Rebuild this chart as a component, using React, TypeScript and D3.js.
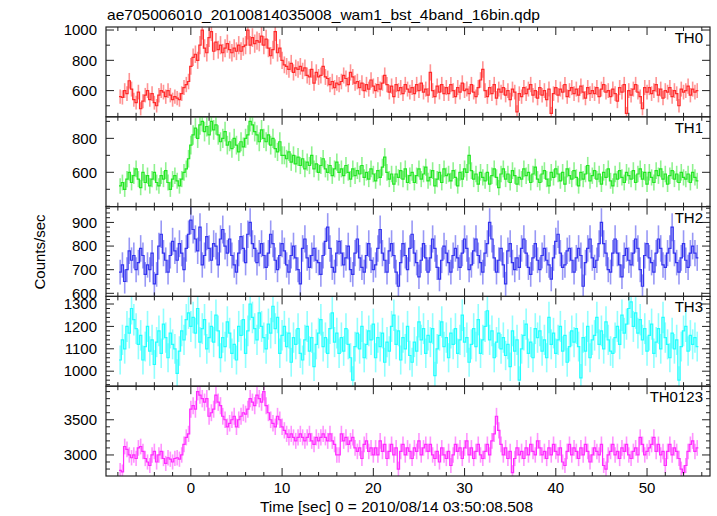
import React from 'react';
import * as d3 from 'd3';

const TITLE = 'ae705006010_20100814035008_wam1_bst_4band_16bin.qdp';
const XLABEL = 'Time [sec] 0 = 2010/08/14 03:50:08.508';
const YLABEL = 'Counts/sec';
const T_START = -7.75;
const BIN = 0.25;

const TH0 = [
  560,555,600,580,665,610,540,520, 590,480,530,570,600,540,580,520,
  500,570,600,590,560,600,570,540, 560,550,540,580,620,640,660,760,
  820,840,800,900,1000,880,850,950, 990,860,920,870,900,850,880,910,
  870,850,880,860,900,860,890,900, 1000,900,950,910,930,920,960,900,
  940,880,830,870,990,850,880,800, 770,760,740,780,720,750,740,760,
  730,750,700,690,740,650,720,690, 700,760,690,680,640,660,620,650,
  640,660,700,680,640,720,690,650, 660,620,650,600,640,610,670,630,
  600,640,610,650,700,640,590,630, 560,640,600,620,580,640,610,590,
  620,580,640,600,650,590,610,570, 720,600,560,630,590,640,580,620,
  580,640,600,560,620,590,650,600, 610,580,640,590,560,620,670,740,
  600,560,620,580,640,550,610,590, 620,570,600,540,610,590,460,580,
  560,620,580,610,640,570,600,550, 620,570,600,540,610,450,580,620,
  570,610,590,640,560,600,620,580, 610,570,630,590,550,620,580,600,
  580,620,560,610,640,590,600,560, 610,580,530,620,590,640,450,600,
  570,610,640,590,560,480,620,590, 620,580,600,640,570,610,550,600,
  590,620,560,600,580,500,610,590, 600,630,570,610,590,600,
];

const TH1 = [
  520,540,500,560,600,540,580,620, 560,510,600,540,580,520,560,600,
  540,520,580,560,610,540,500,560, 580,550,520,560,600,620,680,760,
  820,860,800,880,900,840,870,820, 900,850,880,820,780,800,840,760,
  780,740,800,760,720,780,750,800, 820,900,880,840,820,780,850,800,
  780,820,760,800,740,720,780,700, 700,680,720,660,700,650,690,640,
  680,620,660,640,700,620,650,600, 640,680,620,600,640,580,620,660,
  600,620,580,640,600,560,620,580, 610,590,640,570,600,560,620,590,
  550,610,570,630,690,600,560,590, 530,590,570,610,560,620,540,580,
  600,540,580,620,560,590,630,550, 570,610,520,560,600,540,620,580,
  590,550,610,570,520,600,560,620, 600,700,610,560,590,530,600,570,
  550,600,530,580,620,570,510,590, 620,560,590,540,610,580,530,570,
  560,620,580,600,540,590,630,560, 540,590,610,560,520,600,570,620,
  590,550,600,530,620,580,560,610, 570,520,600,560,590,640,550,580,
  610,560,590,530,600,570,620,550, 520,590,560,610,570,540,600,580,
  560,610,540,590,620,560,600,530, 600,570,540,610,580,620,560,590,
  530,580,610,560,590,540,600,570, 560,590,540,600,570,550,
];

const TH2 = [
  690,720,650,700,780,740,760,700, 730,790,760,680,720,700,770,640,
  680,800,850,770,740,690,760,820, 780,740,810,770,700,790,850,910,
  870,830,780,880,720,760,840,790, 740,810,800,720,830,870,800,770,
  830,760,720,690,770,840,790,730, 850,900,810,790,730,770,810,760,
  710,770,850,810,740,700,760,810, 780,720,690,760,800,750,700,640,
  790,830,750,710,760,790,740,730, 680,760,820,880,790,710,690,770,
  820,770,720,750,800,700,680,770, 830,750,710,690,760,810,740,700,
  720,790,870,770,740,690,780,810, 760,690,630,730,810,760,700,790,
  850,770,730,670,740,810,750,690, 750,830,790,710,660,740,800,770,
  730,690,760,790,750,710,770,830, 790,700,720,780,830,760,730,690,
  770,810,900,830,750,690,740,790, 720,640,780,810,730,700,750,710,
  790,830,770,710,680,750,810,740, 700,760,790,740,720,660,750,820,
  850,770,710,720,780,790,740,690, 750,790,760,630,730,790,830,750,
  710,740,810,900,810,770,700,690, 770,830,770,720,670,760,790,740,
  720,770,830,790,700,630,760,810, 750,730,690,770,830,790,720,710,
  770,790,880,770,730,690,750,810, 740,710,770,800,770,750,
];

const TH3 = [
  1050,1140,1100,1200,1170,1280,1230,1190, 1120,1160,1050,1110,1200,1090,1140,1030,
  1130,1180,1080,1210,1150,1060,1170,1120, 1100,990,1090,1180,1140,1230,1260,1200,
  1240,1170,1280,1130,1190,1230,1100,1150, 1200,1130,1250,1180,1060,1150,1110,1220,
  1170,1080,1120,1050,1200,1160,1230,1080, 1180,1300,1240,1190,1140,1260,1200,1150,
  1100,1210,1170,1290,1190,1240,1080,1160, 1200,1110,1170,1040,1150,1120,1190,1080,
  1050,1140,1200,1090,1150,1020,1120,1170, 1230,1110,1150,1080,1190,1260,1130,1170,
  1080,1150,1090,1190,1120,1060,960,1110, 1170,1100,1200,1060,1120,1180,1140,1210,
  1060,1150,1110,1170,1040,1130,1090,1200, 1250,1120,1180,1050,1150,1100,1200,1070,
  1040,1130,1090,1220,1140,1190,1080,1160, 1130,1190,980,1100,1160,1220,1110,1150,
  1060,1170,1120,1190,1080,1140,1250,1130, 1150,1040,1120,1190,1110,1230,1080,1140,
  1200,1270,1140,1180,1060,1130,1170,1100, 1150,1070,1120,1020,1180,1090,1140,960,
  1100,1160,1210,1080,1130,1060,1190,1150, 1180,1090,1140,1060,1240,1120,1170,1080,
  1140,1200,1090,1160,1040,1110,1180,1130, 1190,1110,970,1150,1090,1200,1060,1140,
  1160,1240,1120,1180,1100,1220,1140,1090, 1080,1150,1200,1120,1250,1170,1210,1280,
  1310,1200,1260,1170,1230,1140,1190,1090, 1160,1210,1080,1130,1190,1100,1240,1150,
  1120,1060,1170,1100,1140,960,1110,1180, 1200,1090,1160,1120,1150,1110,
];

const TH0123 = [
  2780,2760,3120,3080,3000,2960,3000,2950, 3100,3120,3050,2950,2900,2850,3000,3050,
  2900,3000,3050,2950,2880,2960,2940,2900, 2950,2960,2940,3000,3150,3250,3300,3650,
  3700,3650,3900,3850,3800,3750,3800,3550, 3600,3650,3850,3750,3700,3550,3500,3400,
  3450,3500,3550,3400,3500,3550,3600,3580, 3650,3800,3750,3700,3850,3800,3750,3900,
  3700,3600,3500,3450,3400,3550,3500,3400, 3350,3300,3250,3300,3250,3200,3250,3300,
  3250,3200,3250,3300,3200,3150,3250,3200, 3250,3300,3250,3200,3300,3200,3150,3000,
  3000,3300,3200,3250,3150,3200,3250,3100, 3050,3100,2950,3150,3200,3050,3100,3000,
  3100,3000,3200,3050,3150,2950,3050,3150, 3000,3100,2800,3050,3150,3000,3100,3050,
  2950,3100,3050,3200,3000,3100,3150,3050, 3150,3000,2950,3050,2900,3100,3000,2950,
  3050,2850,3000,3150,3050,3100,2950,3100, 3200,3000,3100,2950,3050,3150,3000,2950,
  3050,3150,3000,3200,3300,3550,3350,3150, 3000,3100,2950,3050,2750,2950,3100,3000,
  3050,2950,3100,3000,3150,3050,3000,3200, 3100,3000,3050,2950,3100,3000,3150,3050,
  3000,3100,2900,2850,3050,3150,3000,3100, 3050,2950,3100,3000,3150,3050,2900,3000,
  3100,3050,3000,3150,2850,2800,3000,3050, 3150,3000,3050,2950,3100,3050,3150,3000,
  2950,3050,3100,3000,3250,3150,3000,3050, 3100,3150,3250,3050,3150,3000,3050,2850,
  3050,3150,3000,3100,3050,2950,2800,2750, 2850,3050,3150,3200,3050,3100,
];

const PANEL_NAMES = ['TH0', 'TH1', 'TH2', 'TH3', 'TH0123'];
const SERIES = [TH0, TH1, TH2, TH3, TH0123];
const COLORS = ['#ff2a2a', '#22e622', '#3333ee', '#22ffff', '#ff2aff'];
const Y_DOMAINS: [number, number][] = [[427, 1020], [398, 927], [587, 967], [933, 1334], [2701, 3977]];
const Y_LABELS = [[600, 800, 1000], [600, 800], [600, 700, 800, 900], [1000, 1100, 1200, 1300], [3000, 3500]];
const Y_MINOR = [100, 100, 20, 20, 100];
const X_LABELS = [0, 10, 20, 30, 40, 50];

const FONT = 'Liberation Sans, Arial, Helvetica, sans-serif';
const FS = 15;

function Txt({ x, y, anchor = 'start', rotate = 0, children }: any) {
  return (
    <text
      transform={`translate(${x},${y}) rotate(${rotate})`}
      textAnchor={anchor}
      fontSize={FS}
      fontFamily={FONT}
      fill="#000"
    >
      {children}
    </text>
  );
}

export default function App() {
  const W = 717, H = 516;
  const left = 106, right = 710, top = 27, bottom = 476;
  const ph = (bottom - top) / 5;
  const x = d3.scaleLinear().domain([-9.3, 56.9]).range([left, right]);
  const xMinor = d3.range(-8, 57, 2);

  return (
    <svg width={W} height={H} style={{ position: 'absolute', left: 0, top: 0, background: '#fff' }}>
      <rect x={0} y={0} width={W} height={H} fill="#fff" />
      <text x={107} y={19.5} fontSize={FS} fontFamily={FONT} textLength={433} lengthAdjust="spacingAndGlyphs">{TITLE}</text>
      {SERIES.map((vals, i) => {
        const y0 = top + i * ph;
        const y1 = y0 + ph;
        const y = d3.scaleLinear().domain(Y_DOMAINS[i]).range([y1, y0]);
        const pts: [number, number][] = [];
        vals.forEach((v, j) => {
          const t = T_START + j * BIN;
          pts.push([t - BIN / 2, v], [t + BIN / 2, v]);
        });
        const line = d3.line<[number, number]>().x(d => x(d[0])).y(d => y(d[1]));
        const [dmin, dmax] = Y_DOMAINS[i];
        const minor = d3.range(Math.ceil(dmin / Y_MINOR[i]) * Y_MINOR[i], dmax, Y_MINOR[i]);
        const clipId = `clip${i}`;
        return (
          <g key={i}>
            <clipPath id={clipId}>
              <rect x={left} y={y0} width={right - left} height={ph} />
            </clipPath>
            <g clipPath={`url(#${clipId})`}>
              <g stroke={COLORS[i]} strokeWidth={1.6} opacity={0.5}>
                {vals.map((v, j) => {
                  const t = T_START + j * BIN;
                  const e = 2 * Math.sqrt(v);
                  return <line key={j} x1={x(t)} x2={x(t)} y1={y(v - e)} y2={y(v + e)} />;
                })}
              </g>
              <path d={line(pts) || ''} fill="none" stroke={COLORS[i]} strokeWidth={1.2} />
            </g>
            <g stroke="#222" strokeWidth={1}>
              {xMinor.map(t => {
                const len = X_LABELS.includes(t) ? 8 : 4;
                return (
                  <g key={t}>
                    <line x1={x(t)} x2={x(t)} y1={y0} y2={y0 + len} />
                    <line x1={x(t)} x2={x(t)} y1={y1} y2={y1 - len} />
                  </g>
                );
              })}
              {minor.map(v => {
                const len = Y_LABELS[i].includes(v) ? 8 : 4;
                return (
                  <g key={v}>
                    <line x1={left} x2={left + len} y1={y(v)} y2={y(v)} />
                    <line x1={right} x2={right - len} y1={y(v)} y2={y(v)} />
                  </g>
                );
              })}
            </g>
            <rect x={left} y={y0} width={right - left} height={ph} fill="none" stroke="#222" strokeWidth={1.2} />
            {Y_LABELS[i].map(v => (
              <Txt key={v} x={97} y={y(v) + 5.2} anchor="end">{v}</Txt>
            ))}
            <Txt x={703} y={y0 + 16} anchor="end">{PANEL_NAMES[i]}</Txt>
          </g>
        );
      })}
      {X_LABELS.map(t => (
        <Txt key={t} x={x(t)} y={493} anchor="middle">{t}</Txt>
      ))}
      <text x={396.5} y={512} textAnchor="middle" fontSize={FS} fontFamily={FONT} textLength={273} lengthAdjust="spacingAndGlyphs">{XLABEL}</text>
      <Txt x={45} y={252} anchor="middle" rotate={-90}>{YLABEL}</Txt>
    </svg>
  );
}
